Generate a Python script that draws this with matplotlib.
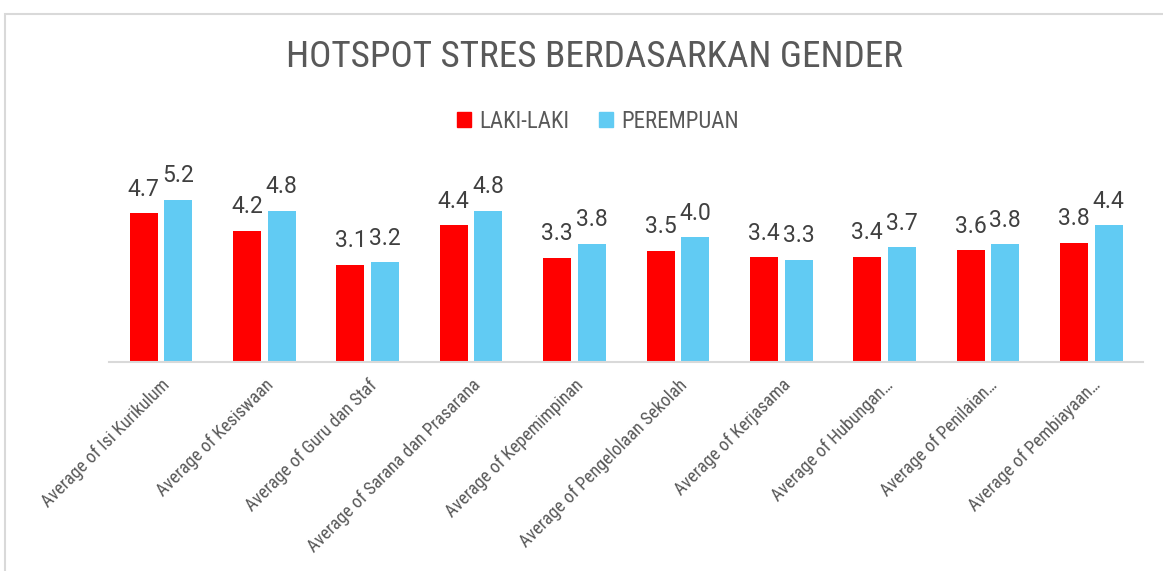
import numpy as np
import matplotlib
matplotlib.use("Agg")
import matplotlib.pyplot as plt
from matplotlib.patches import Rectangle, Patch

plt.rcParams['font.family'] = ['Roboto Condensed', 'Liberation Sans', 'DejaVu Sans']

categories = ["Average of Isi Kurikulum", "Average of Kesiswaan", "Average of Guru dan Staf",
              "Average of Sarana dan Prasarana", "Average of Kepemimpinan",
              "Average of Pengelolaan Sekolah", "Average of Kerjasama",
              "Average of Hubungan\u2026", "Average of Penilaian\u2026", "Average of Pembiayaan\u2026"]
laki = [4.74, 4.19, 3.10, 4.37, 3.32, 3.55, 3.35, 3.36, 3.56, 3.80]
perempuan = [5.18, 4.82, 3.19, 4.82, 3.78, 3.98, 3.26, 3.66, 3.76, 4.36]
series_names = ["LAKI-LAKI", "PEREMPUAN"]

RED = "#ff0000"
BLUE = "#61cbf3"
GREY = "#595959"
LABEL = "#404040"

fig = plt.figure(figsize=(11.63, 5.71), dpi=100)
W, H = 1163, 571

# chart frame
fig.patches.append(Rectangle((5 / W, -0.1), 1.2, 1 - 14 / H + 0.1, transform=fig.transFigure,
                             fill=False, edgecolor="#d9d9d9", linewidth=1.5))

left, right, base, top = 109.3, 1143.0, 362.0, 174.0
ax = fig.add_axes([left / W, 1 - base / H, (right - left) / W, (base - top) / H])

x = np.arange(len(categories))
bw = 0.271
off = 0.1675
b1 = ax.bar(x - off, laki, bw, color=RED, label=series_names[0])
b2 = ax.bar(x + off, perempuan, bw, color=BLUE, label=series_names[1])

for bars in (b1, b2):
    for b in bars:
        h = b.get_height()
        ax.annotate(f"{h:.1f}", (b.get_x() + b.get_width() / 2, h), xytext=(0, 9),
                    textcoords="offset points", ha="center", va="bottom",
                    fontsize=16.5, color=LABEL, clip_on=False,
                    family=['Roboto', 'DejaVu Sans'])

ax.set_xlim(-0.5, len(categories) - 0.5)
ax.set_ylim(0, 6)
ax.set_yticks([])
for s in ("top", "right", "left"):
    ax.spines[s].set_visible(False)
ax.spines["bottom"].set_color("#d9d9d9")
ax.spines["bottom"].set_linewidth(1.5)
ax.set_xticks(x)
ax.set_xticklabels(categories, rotation=45, ha="right", va="top", rotation_mode="anchor",
                   fontsize=13, color=GREY)
ax.tick_params(axis="x", length=0, pad=10)

fig.text(595 / W, 1 - 57 / H, "HOTSPOT STRES BERDASARKAN GENDER", ha="center", va="center",
         fontsize=26.8, color=GREY)

handles = [Patch(color=RED), Patch(color=BLUE)]
fig.legend(handles, series_names, loc="center", bbox_to_anchor=(598 / W, 1 - 121 / H), ncol=2,
           frameon=False, fontsize=16.5, labelcolor=GREY, handlelength=0.6, handleheight=0.6,
           handletextpad=0.35, columnspacing=1.3)

fig.savefig("out.png", dpi=100)
